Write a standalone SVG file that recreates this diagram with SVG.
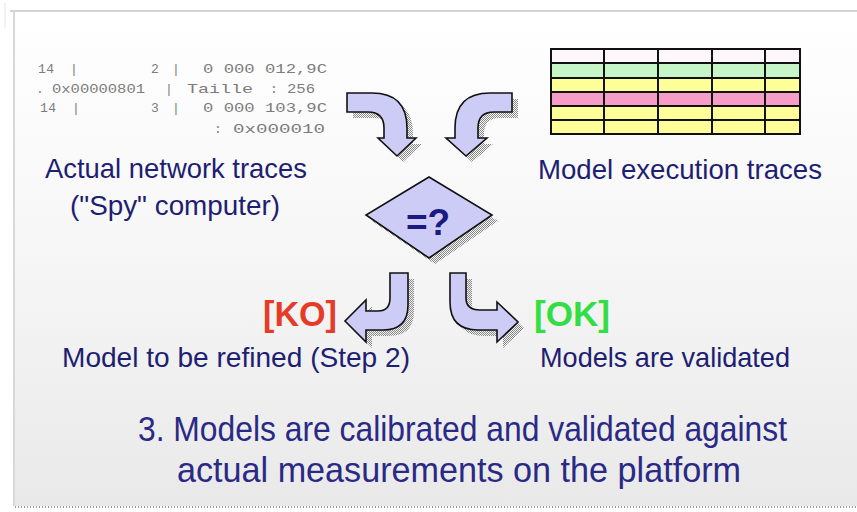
<svg xmlns="http://www.w3.org/2000/svg" width="857" height="512" viewBox="0 0 857 512">
<defs>
<linearGradient id="bg" x1="0" y1="0" x2="0" y2="1">
<stop offset="0" stop-color="#ffffff"/>
<stop offset="0.45" stop-color="#f7f7f7"/>
<stop offset="1" stop-color="#e9e9e9"/>
</linearGradient>
<pattern id="chk" width="2" height="2" patternUnits="userSpaceOnUse">
<rect x="0" y="0" width="1" height="1" fill="#888"/>
<rect x="1" y="1" width="1" height="1" fill="#888"/>
</pattern>
<pattern id="dots" width="3" height="2" patternUnits="userSpaceOnUse">
<rect x="0" y="0" width="1" height="2" fill="#999"/>
</pattern>
</defs>
<style>
.mono{font-family:"Liberation Mono",monospace;font-size:13px;fill:#7c7c7c}
.lbl{font-family:"Liberation Sans",Arial,sans-serif;font-size:28px;fill:#1e1e72}
.big{font-family:"Liberation Sans",Arial,sans-serif;font-size:35px;fill:#2a2a86}
.tag{font-family:"Liberation Sans",Arial,sans-serif;font-size:35px;font-weight:bold}
.arrow{fill:#ccccf6;stroke:#111;stroke-width:1.6;stroke-linejoin:miter}
.shadow{fill:url(#chk);stroke:none}
.cell{stroke:#111;stroke-width:2}
</style>
<rect width="857" height="512" fill="#ffffff"/>
<rect x="14" y="11" width="850" height="495" fill="url(#bg)"/>
<line x1="10" y1="11" x2="857" y2="11" stroke="#d4d4d4" stroke-width="2"/>
<line x1="14" y1="11" x2="14" y2="506" stroke="#d8d8d8" stroke-width="2"/>
<line x1="5" y1="3" x2="5" y2="28" stroke="#e4e4e4" stroke-width="1"/>
<rect x="14" y="506" width="843" height="2" fill="url(#dots)"/>

<g id="network-traces">
<text class="mono" x="38" y="73" textLength="16">14</text>
<text class="mono" x="70" y="73">|</text>
<text class="mono" x="151" y="73">2</text>
<text class="mono" x="172" y="73">|</text>
<text class="mono" x="203" y="73" textLength="124" lengthAdjust="spacingAndGlyphs">0 000 012,9C</text>
<text class="mono" x="36" y="93">.</text>
<text class="mono" x="52" y="93" textLength="93" lengthAdjust="spacingAndGlyphs">0x00000801</text>
<text class="mono" x="165" y="93">|</text>
<text class="mono" x="187" y="93" textLength="66" lengthAdjust="spacingAndGlyphs">Taille</text>
<text class="mono" x="270" y="93">:</text>
<text class="mono" x="287" y="93" textLength="28" lengthAdjust="spacingAndGlyphs">256</text>
<text class="mono" x="40" y="112" textLength="16">14</text>
<text class="mono" x="72" y="112">|</text>
<text class="mono" x="151" y="112">3</text>
<text class="mono" x="172" y="112">|</text>
<text class="mono" x="203" y="112" textLength="124" lengthAdjust="spacingAndGlyphs">0 000 103,9C</text>
<text class="mono" x="214" y="133">:</text>
<text class="mono" x="233" y="133" textLength="92" lengthAdjust="spacingAndGlyphs">0x000010</text>
<text class="lbl" x="45" y="178" textLength="262" lengthAdjust="spacingAndGlyphs">Actual network traces</text>
<text class="lbl" x="70" y="215" textLength="210" lengthAdjust="spacingAndGlyphs">("Spy" computer)</text>
</g>

<g id="model-traces">
<rect x="551" y="49" width="249" height="14" fill="#fdf6fa"/>
<rect x="551" y="63" width="249" height="15" fill="#c6f5c8"/>
<rect x="551" y="78" width="249" height="14" fill="#ffff99"/>
<rect x="551" y="92" width="249" height="14" fill="#f59cc8"/>
<rect x="551" y="106" width="249" height="14" fill="#ffff99"/>
<rect x="551" y="120" width="249" height="14" fill="#ffff99"/>
<g class="cell" fill="none">
<rect x="551" y="49" width="249" height="85"/>
<line x1="551" y1="63" x2="800" y2="63"/>
<line x1="551" y1="78" x2="800" y2="78"/>
<line x1="551" y1="92" x2="800" y2="92"/>
<line x1="551" y1="106" x2="800" y2="106"/>
<line x1="551" y1="120" x2="800" y2="120"/>
<line x1="604" y1="49" x2="604" y2="134"/>
<line x1="658" y1="49" x2="658" y2="134"/>
<line x1="712" y1="49" x2="712" y2="134"/>
<line x1="765" y1="49" x2="765" y2="134"/>
</g>
<text class="lbl" x="538" y="179" textLength="284" lengthAdjust="spacingAndGlyphs">Model execution traces</text>
</g>

<g id="compare">
<polygon class="shadow" points="435,183 498,221 435,264 372,221"/>
<polygon points="429,177 492,215 429,258 366,215" fill="#ccccf6" stroke="#111" stroke-width="1.6"/>
<text x="428" y="235" text-anchor="middle" font-family="Liberation Sans,Arial,sans-serif" font-weight="bold" font-size="37" fill="#1a1a80">=?</text>
</g>

<g id="ko">
<text class="tag" x="263" y="326" fill="#e53c28" textLength="74" lengthAdjust="spacingAndGlyphs">[KO]</text>
<text class="lbl" x="62" y="367" textLength="348" lengthAdjust="spacingAndGlyphs">Model to be refined (Step 2)</text>
</g>

<g id="ok">
<text class="tag" x="534" y="326" fill="#33dd44" textLength="76" lengthAdjust="spacingAndGlyphs">[OK]</text>
<text class="lbl" x="540" y="367" textLength="250" lengthAdjust="spacingAndGlyphs">Models are validated</text>
</g>

<g id="connectors">
<path class="shadow" transform="translate(6,6)" d="M347,93 L372,93 Q407,93 407,128 L407,138 L416,138 L397,156 L378,138 L384,138 L384,128 Q384,112 368,112 L347,112 Z"/>
<path class="arrow" d="M347,93 L372,93 Q407,93 407,128 L407,138 L416,138 L397,156 L378,138 L384,138 L384,128 Q384,112 368,112 L347,112 Z"/>
<path class="shadow" transform="translate(6,6)" d="M512,93 L490,93 Q455,93 455,128 L455,138 L446,138 L466,156 L487,138 L478,138 L478,128 Q478,112 494,112 L512,112 Z"/>
<path class="arrow" d="M512,93 L490,93 Q455,93 455,128 L455,138 L446,138 L466,156 L487,138 L478,138 L478,128 Q478,112 494,112 L512,112 Z"/>
<path class="shadow" transform="translate(6,6)" d="M390,273 L408,273 L408,305 Q408,330 383,330 L366,330 L366,342 L345,321 L366,300 L366,311 L378,311 Q390,311 390,298 Z"/>
<path class="arrow" d="M390,273 L408,273 L408,305 Q408,330 383,330 L366,330 L366,342 L345,321 L366,300 L366,311 L378,311 Q390,311 390,298 Z"/>
<path class="shadow" transform="translate(6,6)" d="M450,273 L466,273 L466,298 Q466,310 480,310 L497,310 L497,302 L518,322 L497,342 L497,330 L478,330 Q450,330 450,302 Z"/>
<path class="arrow" d="M450,273 L466,273 L466,298 Q466,310 480,310 L497,310 L497,302 L518,322 L497,342 L497,330 L478,330 Q450,330 450,302 Z"/>
</g>

<g id="caption">
<text class="big" x="138" y="441" textLength="649" lengthAdjust="spacingAndGlyphs">3. Models are calibrated and validated against</text>
<text class="big" x="177" y="482" textLength="564" lengthAdjust="spacingAndGlyphs">actual measurements on the platform</text>
</g>
</svg>
